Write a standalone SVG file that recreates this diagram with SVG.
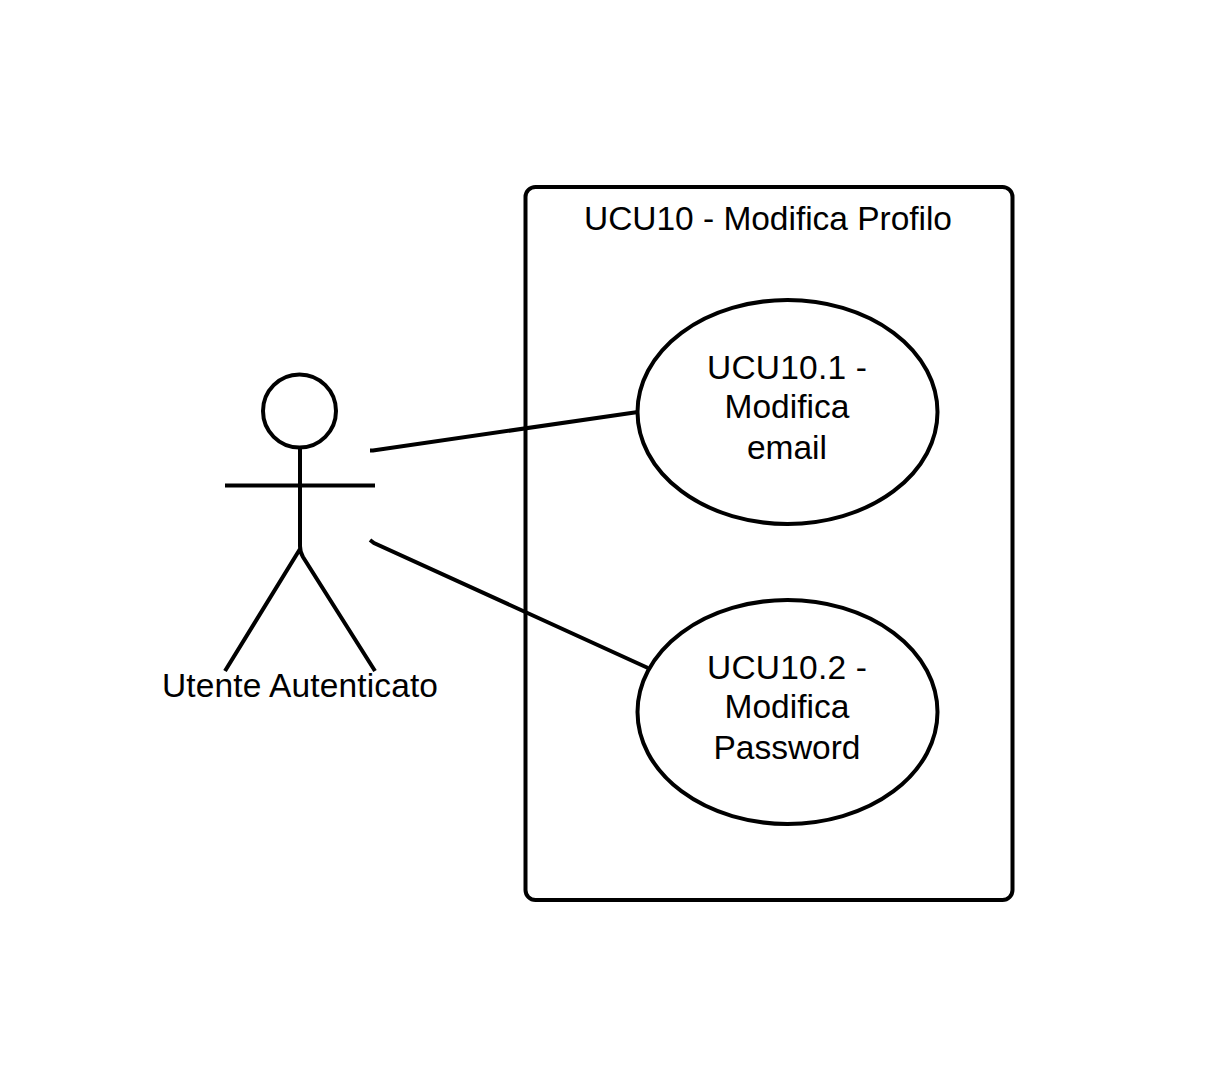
<svg xmlns="http://www.w3.org/2000/svg" width="1209" height="1067" viewBox="0 0 1209 1067">
<style>
.s{fill:none;stroke:#000;stroke-width:4}
text{font-family:"Liberation Sans",Arial,sans-serif;font-size:33.500px;fill:#000;text-anchor:middle}
</style>
<rect width="1209" height="1067" fill="#fff"/>
<g id="system"><rect class="s" x="525.500" y="187" width="487" height="713" rx="10"/><text x="768" y="230" textLength="368">UCU10 - Modifica Profilo</text></g>
<g id="connectors">
<path class="s" d="M370 450.500H373L638 412"/>
<path class="s" d="M370 540L374 543L648 668"/>
</g>
<g id="uc1"><ellipse class="s" cx="787.500" cy="412" rx="150" ry="112"/><text x="787" y="379" textLength="160">UCU10.1 -</text><text x="787" y="418" textLength="125">Modifica</text><text x="787" y="459" textLength="80">email</text></g>
<g id="uc2"><ellipse class="s" cx="787.500" cy="712" rx="150" ry="112"/><text x="787" y="679" textLength="160">UCU10.2 -</text><text x="787" y="718" textLength="125">Modifica</text><text x="787" y="759" textLength="147">Password</text></g>
<g id="actor"><circle class="s" cx="299.500" cy="411" r="36.500"/><path class="s" d="M300 448V546Q300 552 303 557L375 671M300 549L225 671M225 485.500H375"/><text x="300" y="697" textLength="276">Utente Autenticato</text></g>
</svg>
